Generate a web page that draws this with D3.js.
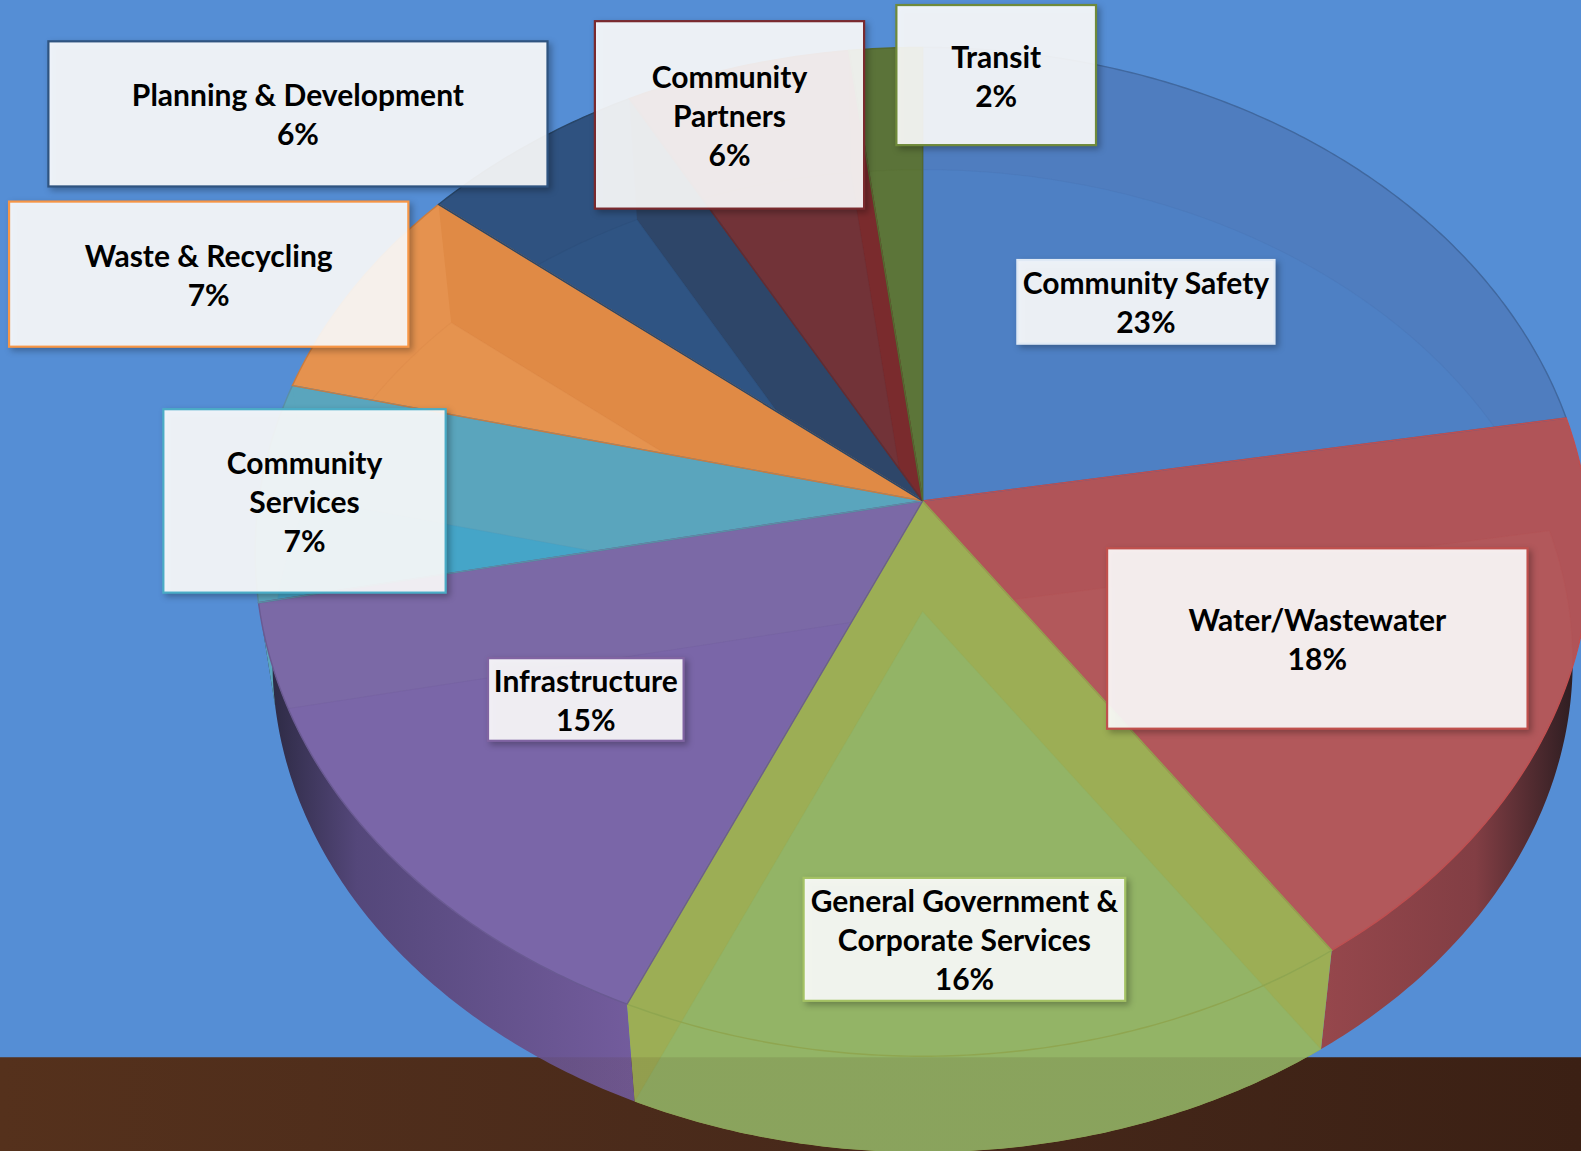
<!DOCTYPE html>
<html>
<head>
<meta charset="utf-8">
<script src="https://cdn.jsdelivr.net/npm/d3@7"></script>
<style>
  html, body { margin: 0; padding: 0; background: #558ed5; overflow: hidden; }
  svg { display: block; }
</style>
</head>
<body>
<div id="chart"></div>
<script>
// --- Data ---
const categories = [
  "Community Safety", "Water/Wastewater", "General Government & Corporate Services",
  "Infrastructure", "Community Services", "Waste & Recycling",
  "Planning & Development", "Community Partners", "Transit"
];
// printed percentages
const percentLabels = [23, 18, 16, 15, 7, 7, 6, 6, 2];
const sliceSizes = [22.3, 18.15, 16.17, 15.18, 7.0, 7.08, 6.14, 6.03, 1.95];
const labelLines = [
  ["Community Safety"], ["Water/Wastewater"], ["General Government &", "Corporate Services"],
  ["Infrastructure"], ["Community", "Services"], ["Waste & Recycling"],
  ["Planning & Development"], ["Community", "Partners"], ["Transit"]
];

// --- Colors ---
const topColors = ["#4f7dbf", "#b05458", "#9cae55", "#7b69a6", "#5aa5bd", "#e5924f", "#2f5280", "#703236", "#5b7339"];
const innerColors = ["#4e80c4", "#b2585b", "#93b466", "#7a66a8", "#45a5c8", "#e5934f", "#2f5483", "#723338", "#5c7539"];
const bandColors = ["#4f7dbf", "#b05458", "#9cae55", "#7b69a6", "#5aa5bd", "#e08a45", "#2e4669", "#7a2b2d", "#5b7339"];
const edgeColors = ["#40689f", "#bf4f50", "#8fa650", "#6a5a92", "#5b8fa6", "#c97c40", "#284668", "#6a2a2c", "#54692f"];
const boxBorders = ["#dfe9f5", "#c0504d", "#a4c264", "#8064a2", "#4bacc6", "#f79646", "#2f5480", "#7a2a2e", "#6f8a3a"];

// --- Layout (reference pixels, the svg viewBox keeps this scale) ---
const W = 1568, H = 1142;
const cx = 915, cy = 497;          // pie centre on the top face
const persp = -0.1009, sy = 495.4, sx = 658.6;
const depthScale = 0.974, bottomCy = 606.6;
const groundY = 1049;
const boxes = [
  [1009, 258, 255, 83], [1098, 544, 417, 179], [797, 871, 319, 122],
  [484, 653, 194, 82], [162, 406, 280, 182], [9, 200, 396, 144],
  [48, 41, 495, 144], [590, 21, 267, 186], [889, 5, 198, 139]
];
const lineGap = 38.7, fontSize = 31, textSqueeze = 0.96;

const svg = d3.select("#chart").append("svg")
  .attr("width", 1581).attr("height", 1151)
  .attr("viewBox", `0 0 ${W} ${H}`)
  .attr("preserveAspectRatio", "none");
const defs = svg.append("defs");

// tilt of the disc: angle (clockwise from 12 o'clock) -> picture position
function project(angle, r, face) {
  const u = r * Math.sin(angle), v = -r * Math.cos(angle);
  const w = 1 + persp * v;
  const X = sx * u / w, Y = sy * v / w;
  return face === "top" ? [cx + X, cy + Y] : [cx + depthScale * X, bottomCy + depthScale * Y];
}
function arcAngles(d) {
  return d3.range(d.startAngle, d.endAngle, 0.01).concat(d.endAngle);
}
const line = d3.line();
function wedge(d, face) {
  return line([project(0, 0, face), ...arcAngles(d).map(a => project(a, 1, face))]) + "Z";
}
function wall(d) {
  const angles = arcAngles(d);
  return line([
    ...angles.map(a => project(a, 1, "top")),
    ...angles.slice().reverse().map(a => project(a, 1, "bottom"))
  ]) + "Z";
}
// the cut face of a slice at one of its two straight edges
function radialWall(angle) {
  return line([
    project(0, 0, "top"), project(angle, 1, "top"),
    project(angle, 1, "bottom"), project(0, 0, "bottom")
  ]) + "Z";
}

const slices = d3.pie().sort(null).value(d => d)(sliceSizes);

// --- Gradients ---
function gradient(id, x1, x2, stops) {
  const g = defs.append("linearGradient").attr("id", id)
    .attr("gradientUnits", "userSpaceOnUse")
    .attr("x1", x1).attr("x2", x2).attr("y1", 0).attr("y2", 0);
  stops.forEach(s => g.append("stop").attr("offset", s[0]).attr("stop-color", s[1]));
}
gradient("groundGrad", 0, W, [[0, "#55311c"], [0.6, "#46281a"], [1, "#3b2014"]]);
gradient("purpleWall", 262, 630, [[0, "#2a2840"], [0.25, "#54477a"], [1, "#735c9d"]]);
gradient("redWall", 1311, 1565, [[0, "#96474c"], [0.6, "#823e44"], [1, "#2a1c20"]]);
const wallFills = topColors.slice();
wallFills[1] = "url(#redWall)";
wallFills[3] = "url(#purpleWall)";

// --- Background ---
svg.append("rect").attr("width", W).attr("height", H).attr("fill", "#558ed5");
svg.append("rect").attr("y", groundY).attr("width", W).attr("height", H - groundY).attr("fill", "url(#groundGrad)");

// --- Pie ---
const pieG = svg.append("g");
pieG.selectAll("path.wall").data(slices).join("path")
  .attr("class", "wall")
  .attr("fill", (d, i) => wallFills[i])
  .attr("d", wall);
pieG.selectAll("path.top").data(slices).join("path")
  .attr("class", "top")
  .attr("fill", (d, i) => topColors[i])
  .attr("d", d => wedge(d, "top"));

// clip to the slice; the green one sits in front so its wall shows the floor too
slices.forEach((d, i) => {
  const clip = defs.append("clipPath").attr("id", "clip" + i);
  clip.append("path").attr("d", wedge(d, "top"));
  if (i === 2) clip.append("path").attr("d", wall(d));
});
pieG.selectAll("path.bandEnd").data(slices).join("path")
  .attr("class", "bandEnd")
  .attr("clip-path", (d, i) => `url(#clip${i})`)
  .attr("fill", (d, i) => bandColors[i])
  .attr("d", d => radialWall(d.endAngle));
// floor of each slice showing through the glassy top
pieG.selectAll("path.inner").data(slices).join("path")
  .attr("class", "inner")
  .attr("clip-path", (d, i) => `url(#clip${i})`)
  .attr("fill", (d, i) => innerColors[i])
  .attr("stroke", (d, i) => edgeColors[i])
  .attr("stroke-opacity", 0.15)
  .attr("d", d => wedge(d, "bottom"));

pieG.selectAll("path.edge").data(slices).join("path")
  .attr("class", "edge")
  .attr("fill", "none")
  .attr("stroke", (d, i) => edgeColors[i])
  .attr("stroke-width", 1.4)
  .attr("d", d => wedge(d, "top"));

// ground seen through the lower part of the pie
svg.append("rect").attr("y", groundY).attr("width", W).attr("height", H - groundY)
  .attr("fill", "url(#groundGrad)").attr("opacity", 0.12);

// --- Labels ---
const labels = svg.selectAll("g.label").data(categories).join("g").attr("class", "label");
labels.append("rect")
  .attr("x", (d, i) => boxes[i][0]).attr("y", (d, i) => boxes[i][1])
  .attr("width", (d, i) => boxes[i][2]).attr("height", (d, i) => boxes[i][3])
  .attr("fill", "#ffffff").attr("fill-opacity", 0.9)
  .attr("stroke", (d, i) => boxBorders[i]).attr("stroke-width", 2.2)
  .style("filter", "drop-shadow(3px 3px 3px rgba(0,0,0,0.3))");

labels.each(function (d, i) {
  const lines = labelLines[i].concat(percentLabels[i] + "%");
  const midX = boxes[i][0] + boxes[i][2] / 2;
  const midY = boxes[i][1] + boxes[i][3] / 2;
  d3.select(this).selectAll("text").data(lines).join("text")
    .attr("x", midX)
    .attr("y", (t, j) => midY + 1 + (j - (lines.length - 1) / 2) * lineGap)
    .attr("dy", "0.35em")
    .attr("text-anchor", "middle")
    .attr("font-family", "Lato, 'Open Sans', sans-serif")
    .attr("font-weight", 700)
    .attr("font-size", fontSize)
    .attr("fill", "#000")
    .text(t => t)
    .each(function () {
      // Lato runs a little wider than the lettering in the picture
      d3.select(this)
        .attr("textLength", this.getComputedTextLength() * textSqueeze)
        .attr("lengthAdjust", "spacingAndGlyphs");
    });
});
</script>
</body>
</html>
